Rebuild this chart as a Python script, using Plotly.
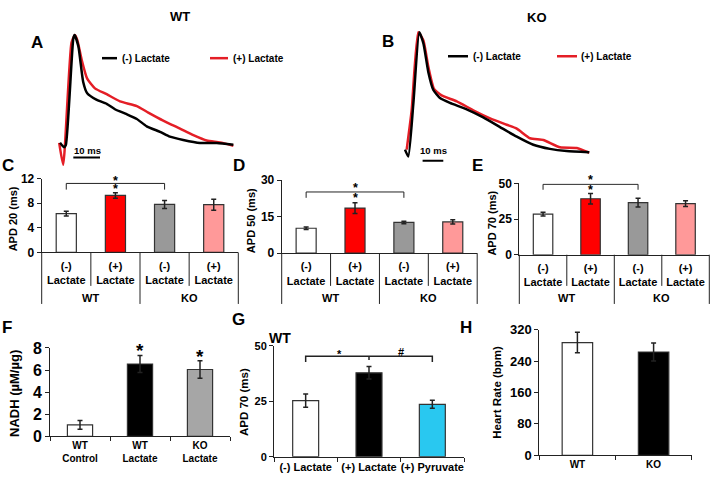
import plotly.graph_objects as go

W, H = 710, 485
FONT = "Liberation Sans, Arial, sans-serif"


def fx(p):
    return p / W


def fy(p):
    return 1 - p / H


# ---------------- data ----------------
# Panel A (WT) optical action potentials: time (ms), normalised amplitude
wt_minus_t = [0, 1.5, 2.2, 5.0, 5.5, 6.9, 8.7, 10.2, 13.8, 17.5, 20.6, 25, 28.8, 32.5, 37.5, 41.2, 46.2, 52.5, 58.8, 65]
wt_minus_v = [0.02, -0.02, 0.0, 0.97, 1.0, 0.895, 0.573, 0.47, 0.41, 0.375, 0.325, 0.28, 0.237, 0.17, 0.12, 0.076, 0.046, 0.018, 0.018, 0.003]
wt_plus_t = [-0.3, 1.2, 4.3, 5.6, 6.5, 8.1, 10.2, 13.1, 17.5, 22.5, 28.8, 33.1, 38.7, 45, 50, 55, 60, 65]
wt_plus_v = [0.02, -0.18, 0.93, 1.0, 0.953, 0.778, 0.603, 0.515, 0.462, 0.397, 0.354, 0.295, 0.222, 0.149, 0.09, 0.041, 0.024, -0.006]

# Panel B (KO)
ko_minus_t = [0, 1.6, 4.0, 6.9, 8.9, 11.3, 13.7, 16.9, 21.7, 29.8, 37.8, 45.9, 54, 62, 70, 78.1, 89]
ko_minus_v = [0.026, -0.032, 0.4, 1.0, 0.906, 0.666, 0.52, 0.453, 0.413, 0.36, 0.293, 0.213, 0.133, 0.066, 0.032, 0.014, 0.005]
ko_plus_t = [0.8, 3.2, 6.4, 8.9, 11.3, 14, 17.7, 25, 33, 41.1, 49.1, 54, 60.4, 66.8, 74.9, 83, 89]
ko_plus_v = [0.026, 0.35, 1.0, 0.93, 0.71, 0.53, 0.475, 0.426, 0.352, 0.285, 0.232, 0.2, 0.12, 0.106, 0.045, 0.04, 0.0]

trace_legend = ["(-) Lactate", "(+) Lactate"]

# Panels C-E
apd_labels = ["(-)<br>Lactate", "(+)<br>Lactate", "(-)<br>Lactate", "(+)<br>Lactate"]
apd_groups = ["WT", "KO"]
apd20 = [6.3, 9.25, 7.8, 7.75]
apd20_err = [0.4, 0.45, 0.65, 0.9]
apd50 = [10.2, 18.5, 12.6, 12.8]
apd50_err = [0.5, 2.2, 0.5, 0.9]
apd70 = [28.5, 39.2, 36.5, 35.8]
apd70_err = [1.3, 3.7, 3.0, 2.0]
apd_colors = ["#ffffff", "#ff0000", "#999999", "#ff9999"]

# Panel F
nadh_labels = ["WT<br>Control", "WT<br>Lactate", "KO<br>Lactate"]
nadh = [1.05, 6.55, 6.05]
nadh_err = [0.4, 0.77, 0.8]
nadh_colors = ["#ffffff", "#000000", "#a6a6a6"]

# Panel G
g_labels = ["(-) Lactate", "(+) Lactate", "(+) Pyruvate"]
g_apd70 = [25.3, 37.8, 23.6]
g_err = [3.0, 2.8, 1.8]
g_colors = ["#ffffff", "#000000", "#29c8f0"]

# Panel H
hr_labels = ["WT", "KO"]
hr = [287, 263]
hr_err = [26, 23]
hr_colors = ["#ffffff", "#000000"]

# ---------------- figure ----------------
fig = go.Figure()
lay = dict(width=W, height=H, margin=dict(l=0, r=0, t=0, b=0, pad=0),
           paper_bgcolor="white", plot_bgcolor="rgba(0,0,0,0)", showlegend=False,
           font=dict(family=FONT, color="black"))
shapes, annots = [], []
LC = "#222222"


def nm(i):
    return "" if i == 1 else str(i)


def add_axes(i, xbox, ybox, xr, yr, xkw=None, ykw=None):
    n = nm(i)
    xa = dict(domain=[fx(xbox[0]), fx(xbox[1])], range=xr, anchor="y" + n, fixedrange=True,
              showgrid=False, zeroline=False)
    ya = dict(domain=[fy(ybox[1]), fy(ybox[0])], range=yr, anchor="x" + n, fixedrange=True,
              showgrid=False, zeroline=False)
    xa.update(xkw or {})
    ya.update(ykw or {})
    lay["xaxis" + n] = xa
    lay["yaxis" + n] = ya


def ytick_style(size):
    return dict(showline=True, linecolor=LC, linewidth=1, ticks="outside", ticklen=4,
                tickcolor=LC, tickwidth=1, tickfont=dict(family=FONT, size=size, weight="bold", color="black"))


def text(x, y, s, size, xref="paper", yref="paper", xanchor="center", yanchor="middle",
         angle=0, yshift=0):
    annots.append(dict(x=x, y=y, xref=xref, yref=yref, text=s, showarrow=False,
                       xanchor=xanchor, yanchor=yanchor, textangle=angle, yshift=yshift,
                       font=dict(family=FONT, size=size, color="black", weight="bold")))


def add_bars(i, xs, ys, errs, colors, width):
    n = nm(i)
    fig.add_trace(go.Bar(x=xs, y=ys, xaxis="x" + n, yaxis="y" + n, width=width,
                         marker=dict(color=colors, line=dict(color="#333333", width=1.2)),
                         error_y=dict(type="data", array=errs, color=LC, thickness=1.5, width=2.5),
                         hoverinfo="skip"))


# ---- Panels A & B: traces ----
red = "#e41e26"
trace_panels = [
    # axis idx, xbox, ybox, x origin px, px/ms, baseline px, amp px, data
    (1, (50, 240), (15, 172), 60, 2.667, 142, 114, wt_minus_t, wt_minus_v, wt_plus_t, wt_plus_v),
    (2, (395, 600), (15, 172), 405, 2.07, 150, 125, ko_minus_t, ko_minus_v, ko_plus_t, ko_plus_v),
]
for (i, xb, yb, x0, sx, base, amp, tm, vm, tp, vp) in trace_panels:
    xr = [(xb[0] - x0) / sx, (xb[1] - x0) / sx]
    yr = [(base - yb[1]) / amp, (base - yb[0]) / amp]
    add_axes(i, xb, yb, xr, yr, dict(visible=False), dict(visible=False))
    n = nm(i)
    fig.add_trace(go.Scatter(x=tp, y=vp, mode="lines", line=dict(color=red, width=2.5, shape="spline", smoothing=0.5),
                             xaxis="x" + n, yaxis="y" + n, cliponaxis=False, hoverinfo="skip"))
    fig.add_trace(go.Scatter(x=tm, y=vm, mode="lines", line=dict(color="black", width=2.5, shape="spline", smoothing=0.5),
                             xaxis="x" + n, yaxis="y" + n, cliponaxis=False, hoverinfo="skip"))

# scale bars (10 ms)
for (i, t0, vbar, px_txt, py_txt) in [(1, 5.0, (142 - 155) / 114, 87, 147.5), (2, 8.5, (150 - 158.3) / 125, 433, 148)]:
    n = nm(i)
    shapes.append(dict(type="line", xref="x" + n, yref="y" + n, x0=t0, x1=t0 + 10, y0=vbar, y1=vbar,
                       line=dict(color="black", width=2)))
    text(fx(px_txt), fy(py_txt), "10 ms", 9.5)

# legends
for (lx0, lx1, ly, tx) in [(102, 117, 52, 120), (448, 468, 50, 471)]:
    shapes.append(dict(type="line", xref="paper", yref="paper", x0=fx(lx0), x1=fx(lx1), y0=fy(ly), y1=fy(ly),
                       line=dict(color="black", width=2.5)))
    text(fx(tx), fy(ly), trace_legend[0], 10, xanchor="left")
for (lx0, lx1, ly, tx) in [(210, 228, 52, 231), (557, 577, 50, 579)]:
    shapes.append(dict(type="line", xref="paper", yref="paper", x0=fx(lx0), x1=fx(lx1), y0=fy(ly), y1=fy(ly),
                       line=dict(color=red, width=2.5)))
    text(fx(tx), fy(ly), trace_legend[1], 10, xanchor="left")

text(fx(180), fy(9), "WT", 13)
text(fx(537), fy(10), "KO", 13)

# ---- Panels C, D, E ----
cde = [
    # idx, xbox, ybox, yrange, tickvals, values, errs, title, title x px, bracket y (low, high), star values
    (3, (41.7, 238.3), (176.7, 253.3), [0, 12], [0, 4, 8, 12], apd20, apd20_err, "APD 20 (ms)", 13, (10.2, 11.2), (12.0, 10.7)),
    (4, (281.7, 477.2), (178.3, 254.0), [0, 30], [0, 15, 30], apd50, apd50_err, "APD 50 (ms)", 251.7, (22.7, 25.1), (27.7, 23.3)),
    (5, (519.3, 709.3), (181.7, 255.7), [0, 50], [0, 25, 50], apd70, apd70_err, "APD 70 (ms)", 491.7, (45.5, 49.3), (53.4, 46.8)),
]
xs4 = list(range(len(apd_labels)))
for (i, xb, yb, yr, tv, vals, errs, title, tpx, br, st) in cde:
    n = nm(i)
    xr = [-0.5, len(apd_labels) - 0.5]
    add_axes(i, xb, yb, xr, yr,
             dict(showline=True, linecolor=LC, linewidth=1, ticks="", tickvals=xs4, ticktext=apd_labels,
                  tickfont=dict(family=FONT, size=11, weight="bold", color="black"), ticklabelstandoff=3),
             dict(tickvals=tv, **ytick_style(12)))
    add_bars(i, xs4, vals, errs, apd_colors, 0.41)
    # category table lines
    for k in range(len(apd_labels) + 1):
        b = k - 0.5
        px = xb[0] + (b - xr[0]) / (xr[1] - xr[0]) * (xb[1] - xb[0])
        ybot = 306.7 if k % 2 == 0 else 288
        shapes.append(dict(type="line", xref="paper", yref="paper", x0=fx(px), x1=fx(px),
                           y0=fy(yb[1]), y1=fy(ybot), line=dict(color=LC, width=1)))
    for g, gname in enumerate(apd_groups):
        text(2 * g + 0.5, fy(300.5), gname, 11, xref="x" + n)
    # y title
    text(fx(tpx), fy((yb[0] + yb[1]) / 2 + 4), title, 11, angle=-90)
    # significance bracket
    shapes.append(dict(type="path", xref="x" + n, yref="y" + n,
                       path=f"M 0,{br[0]} L 0,{br[1]} L 2,{br[1]} L 2,{br[0]}",
                       line=dict(color=LC, width=1)))
    # stars (annotations above the axis range are clamped to the top and shifted in pixels)
    ppu = (yb[1] - yb[0]) / (yr[1] - yr[0])
    for sv in st:
        extra = max(0.0, sv - yr[1]) * ppu
        text(1, min(sv, yr[1]), "*", 12.5, xref="x" + n, yref="y" + n, yshift=-2 + extra)

# ---- Panel F ----
cat_x = lambda size: dict(type="category", showline=True, linecolor=LC, linewidth=1, ticks="outside",
                          tickson="boundaries", ticklen=4, tickcolor=LC, tickangle=0,
                          tickfont=dict(family=FONT, size=size, weight="bold", color="black"))
add_axes(6, (50, 230), (352.3, 444), [-0.5, 2.5], [0, 8], cat_x(10),
         dict(tickvals=[0, 2, 4, 6, 8], **ytick_style(16)))
add_bars(6, nadh_labels, nadh, nadh_err, nadh_colors, 0.42)
text(fx(15), fy(400), "NADH (µM/µg)", 13, angle=-90)
text(1, 7.9, "*", 19, xref="x6", yref="y6", yshift=-1)
text(2, 7.35, "*", 19, xref="x6", yref="y6", yshift=-1)

# ---- Panel G ----
add_axes(7, (274, 464), (350, 465), [-0.5, 2.5], [0, 50], cat_x(11),
         dict(tickvals=[0, 25, 50], **ytick_style(11)))
add_bars(7, g_labels, g_apd70, g_err, g_colors, 0.41)
text(fx(243.3), fy(408), "APD 70 (ms)", 11.5, angle=-90)
text(fx(280), fy(341.7), "WT", 14)
shapes.append(dict(type="path", xref="x7", yref="y7", path="M 0,42.7 L 0,45.3 L 2,45.3 L 2,42.7",
                   line=dict(color=LC, width=1.5)))
shapes.append(dict(type="path", xref="x7", yref="y7", path="M 1,45.3 L 1,43.6",
                   line=dict(color=LC, width=1.5)))
text(0.53, 47.4, "*", 11, xref="x7", yref="y7", yshift=-2)
text(1.5, 47.4, "#", 11, xref="x7", yref="y7")

# ---- Panel H ----
add_axes(8, (539.3, 691.7), (333.3, 463.5), [-0.5, 1.5], [0, 320], cat_x(10),
         dict(tickvals=[0, 80, 160, 240, 320], **ytick_style(13)))
add_bars(8, hr_labels, hr, hr_err, hr_colors, 0.4)
text(fx(496.7), fy(398), "Heart Rate (bpm)", 11.5, angle=-90)

# ---- panel letters ----
for (s, px, py) in [("A", 37, 35.5), ("B", 388, 35), ("C", 8, 163), ("D", 239, 163), ("E", 477, 163),
                    ("F", 7, 331), ("G", 238, 322.5), ("H", 466, 331)]:
    text(fx(px), fy(py), s, 17)

lay["shapes"] = shapes
lay["annotations"] = annots
fig.update_layout(**lay)
# place the figure at the page's top-left corner (no default body margin), no mode bar
fig.write_html("out.html", config={"displayModeBar": False},
               post_script="document.body.style.margin='0';document.body.style.overflow='hidden';")
